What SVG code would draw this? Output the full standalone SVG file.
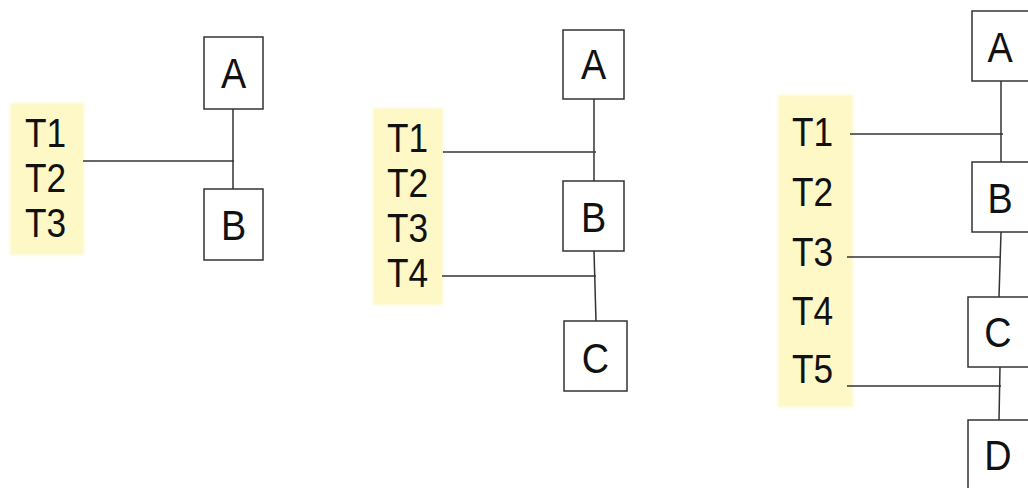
<svg xmlns="http://www.w3.org/2000/svg" width="1028" height="488" viewBox="0 0 1028 488">
  <style>
    .bg { fill: #ffffff; }
    .band { fill: #fdf8c6; filter: url(#soft); }
    .box { fill: #ffffff; stroke: #333333; stroke-width: 1.5; }
    .wire { stroke: #333333; stroke-width: 1.5; fill: none; }
    .lbl { font-family: "Liberation Sans", Arial, sans-serif; font-size: 41px; fill: #111111; }
    .key { font-family: "Liberation Sans", Arial, sans-serif; font-size: 42px; fill: #111111; text-anchor: middle; }
  </style>
  <defs>
    <filter id="soft" x="-10%" y="-10%" width="120%" height="120%">
      <feGaussianBlur stdDeviation="1.5"/>
    </filter>
  </defs>

  <rect class="bg" x="0" y="0" width="1028" height="488"/>

  <!-- label bands (glyphs slightly condensed) -->
  <g id="labels-1">
    <rect class="band" x="10" y="103" width="74" height="152"/>
    <text class="lbl" transform="translate(25,147) scale(0.86,1)">T1</text>
    <text class="lbl" transform="translate(25,192) scale(0.86,1)">T2</text>
    <text class="lbl" transform="translate(25,237) scale(0.86,1)">T3</text>
  </g>
  <g id="labels-2">
    <rect class="band" x="373" y="108" width="70" height="197"/>
    <text class="lbl" transform="translate(387,152) scale(0.86,1)">T1</text>
    <text class="lbl" transform="translate(387,197) scale(0.86,1)">T2</text>
    <text class="lbl" transform="translate(387,242) scale(0.86,1)">T3</text>
    <text class="lbl" transform="translate(387,287) scale(0.86,1)">T4</text>
  </g>
  <g id="labels-3">
    <rect class="band" x="778" y="95" width="75" height="312"/>
    <text class="lbl" transform="translate(792,146) scale(0.86,1)">T1</text>
    <text class="lbl" transform="translate(792,206) scale(0.86,1)">T2</text>
    <text class="lbl" transform="translate(792,266) scale(0.86,1)">T3</text>
    <text class="lbl" transform="translate(792,325) scale(0.86,1)">T4</text>
    <text class="lbl" transform="translate(792,383) scale(0.86,1)">T5</text>
  </g>

  <!-- connectors -->
  <g id="connectors">
    <line class="wire" x1="233" y1="109" x2="233" y2="189"/>
    <line class="wire" x1="83" y1="161" x2="234" y2="161"/>

    <line class="wire" x1="594" y1="99" x2="594" y2="181"/>
    <line class="wire" x1="443" y1="152" x2="596" y2="152"/>
    <line class="wire" x1="594" y1="251" x2="596" y2="321"/>
    <line class="wire" x1="442" y1="276" x2="596" y2="276"/>

    <line class="wire" x1="1001" y1="81" x2="1001" y2="162"/>
    <line class="wire" x1="850" y1="134" x2="1003" y2="134"/>
    <line class="wire" x1="1001" y1="232" x2="999" y2="297"/>
    <line class="wire" x1="847" y1="257" x2="1001" y2="257"/>
    <line class="wire" x1="1000" y1="367" x2="999" y2="420"/>
    <line class="wire" x1="847" y1="386" x2="1001" y2="386"/>
  </g>

  <!-- first chain -->
  <g id="p1-A">
    <rect class="box" x="204" y="37" width="59" height="72"/>
    <text class="key" transform="translate(233.5,88) scale(0.9,1)">A</text>
  </g>
  <g id="p1-B">
    <rect class="box" x="204" y="189" width="59" height="71"/>
    <text class="key" transform="translate(233.5,240) scale(0.9,1)">B</text>
  </g>

  <!-- second chain -->
  <g id="p2-A">
    <rect class="box" x="563" y="30" width="61" height="69"/>
    <text class="key" transform="translate(593.5,79) scale(0.9,1)">A</text>
  </g>
  <g id="p2-B">
    <rect class="box" x="563" y="181" width="61" height="70"/>
    <text class="key" transform="translate(593.5,232) scale(0.9,1)">B</text>
  </g>
  <g id="p2-C">
    <rect class="box" x="564" y="321" width="63" height="70"/>
    <text class="key" transform="translate(595.5,373) scale(0.9,1)">C</text>
  </g>

  <!-- third chain -->
  <g id="p3-A">
    <rect class="box" x="972" y="11" width="62" height="70"/>
    <text class="key" transform="translate(1000,62) scale(0.9,1)">A</text>
  </g>
  <g id="p3-B">
    <rect class="box" x="972" y="162" width="62" height="70"/>
    <text class="key" transform="translate(1000,213) scale(0.9,1)">B</text>
  </g>
  <g id="p3-C">
    <rect class="box" x="968" y="297" width="66" height="70"/>
    <text class="key" transform="translate(998,347) scale(0.9,1)">C</text>
  </g>
  <g id="p3-D">
    <rect class="box" x="968" y="420" width="66" height="80"/>
    <text class="key" transform="translate(998,470) scale(0.9,1)">D</text>
  </g>
</svg>
